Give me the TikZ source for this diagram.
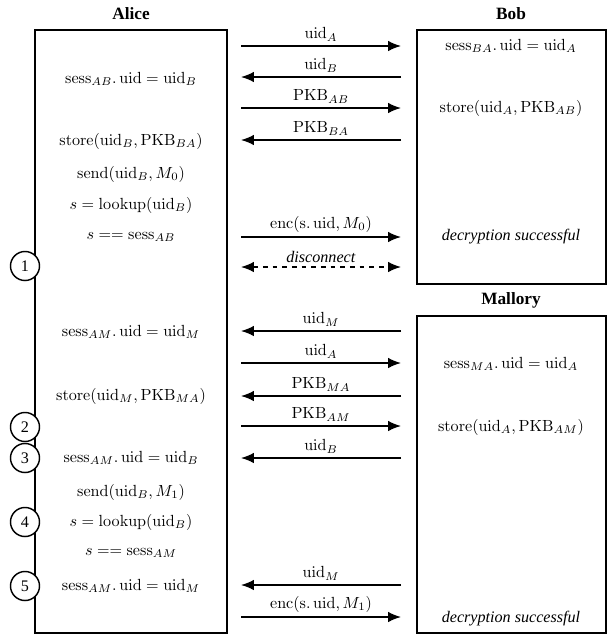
\documentclass[tikz,border=0pt]{standalone}
\usepackage[no-math]{fontspec}
\setmainfont{Liberation Serif}
\usepackage{amsmath}
\usetikzlibrary{arrows.meta}
\tikzset{msg/.style={line width=0.9pt,-{Latex[length=8pt,width=6.5pt]}}}
\tikzset{lbl/.style={above,inner sep=2.5pt}}
\tikzset{box/.style={line width=0.9pt}}
\tikzset{num/.style={circle,draw,line width=0.9pt,fill=white,inner sep=0pt,minimum size=18pt}}
\tikzset{party/.style={font=\fontsize{10.7}{12}\selectfont\bfseries}}
\begin{document}
\begin{tikzpicture}[x=0.62pt,y=-0.62pt]
      \useasboundingbox (0,0) rectangle (608,634);
      % participants
      \draw [box] (35,30) rectangle (227,633);
      \draw [box] (417,30) rectangle (606,284);
      \draw [box] (417,316) rectangle (606,633);
      \node [party] (alice) at (131,14) {Alice};
      \node [party] (bob) at (511,14) {Bob};
      \node [party] (mallory) at (511,300) {Mallory};
      % message end points
      \foreach \n/\y in {1/46,2/77,3/108,4/140,5/237,6/267,7/331,8/363,9/396,10/426,11/458,12/585,13/617}{
        \coordinate (l\n) at (241,\y);
        \coordinate (r\n) at (401,\y);
      }
      % messages
      \draw [msg] (l1) -- node [lbl] {$\mathrm{uid}_A$} (r1);
      \draw [msg] (r2) -- node [lbl] {$\mathrm{uid}_B$} (l2);
      \draw [msg] (l3) -- node [lbl] {$\mathrm{PKB}_{AB}$} (r3);
      \draw [msg] (r4) -- node [lbl] {$\mathrm{PKB}_{BA}$} (l4);
      \draw [msg] (l5) -- node [lbl] {$\mathrm{enc}(\mathrm{s}.\,\mathrm{uid},M_0)$} (r5);
      \draw [msg,dashed,{Latex[length=8pt,width=6.5pt]}-{Latex[length=8pt,width=6.5pt]}] (l6) -- node [lbl] {\textit{disconnect}} (r6);
      \draw [msg] (r7) -- node [lbl] {$\mathrm{uid}_M$} (l7);
      \draw [msg] (l8) -- node [lbl] {$\mathrm{uid}_A$} (r8);
      \draw [msg] (r9) -- node [lbl] {$\mathrm{PKB}_{MA}$} (l9);
      \draw [msg] (l10) -- node [lbl] {$\mathrm{PKB}_{AM}$} (r10);
      \draw [msg] (r11) -- node [lbl] {$\mathrm{uid}_B$} (l11);
      \draw [msg] (r12) -- node [lbl] {$\mathrm{uid}_M$} (l12);
      \draw [msg] (l13) -- node [lbl] {$\mathrm{enc}(\mathrm{s}.\,\mathrm{uid},M_1)$} (r13);
      % Alice
      \node (a1) at (131,79) {$\mathrm{sess}_{AB}.\,\mathrm{uid}=\mathrm{uid}_B$};
      \node (a2) at (131,141) {$\mathrm{store}(\mathrm{uid}_B,\mathrm{PKB}_{BA})$};
      \node (a3) at (131,174) {$\mathrm{send}(\mathrm{uid}_B,M_0)$};
      \node (a4) at (131,205) {$s=\mathrm{lookup}(\mathrm{uid}_B)$};
      \node (a5) at (131,237) {$s==\mathrm{sess}_{AB}$};
      \node (a6) at (131,332) {$\mathrm{sess}_{AM}.\,\mathrm{uid}=\mathrm{uid}_M$};
      \node (a7) at (131,396) {$\mathrm{store}(\mathrm{uid}_M,\mathrm{PKB}_{MA})$};
      \node (a8) at (131,458) {$\mathrm{sess}_{AM}.\,\mathrm{uid}=\mathrm{uid}_B$};
      \node (a9) at (131,492) {$\mathrm{send}(\mathrm{uid}_B,M_1)$};
      \node (a10) at (131,522) {$s=\mathrm{lookup}(\mathrm{uid}_B)$};
      \node (a11) at (131,553) {$s==\mathrm{sess}_{AM}$};
      \node (a12) at (131,586) {$\mathrm{sess}_{AM}.\,\mathrm{uid}=\mathrm{uid}_M$};
      % Bob
      \node (b1) at (511,46) {$\mathrm{sess}_{BA}.\,\mathrm{uid}=\mathrm{uid}_A$};
      \node (b2) at (511,108) {$\mathrm{store}(\mathrm{uid}_A,\mathrm{PKB}_{AB})$};
      \node (b3) at (511,237) {\textit{decryption successful}};
      % Mallory
      \node (m1) at (511,364) {$\mathrm{sess}_{MA}.\,\mathrm{uid}=\mathrm{uid}_A$};
      \node (m2) at (511,427) {$\mathrm{store}(\mathrm{uid}_A,\mathrm{PKB}_{AM})$};
      \node (m3) at (511,619) {\textit{decryption successful}};
      % steps
      \node [num] (c1) at (25,266) {1};
      \node [num] (c2) at (25,427) {2};
      \node [num] (c3) at (25,458) {3};
      \node [num] (c4) at (25,522) {4};
      \node [num] (c5) at (25,586) {5};
    \end{tikzpicture}
\end{document}
